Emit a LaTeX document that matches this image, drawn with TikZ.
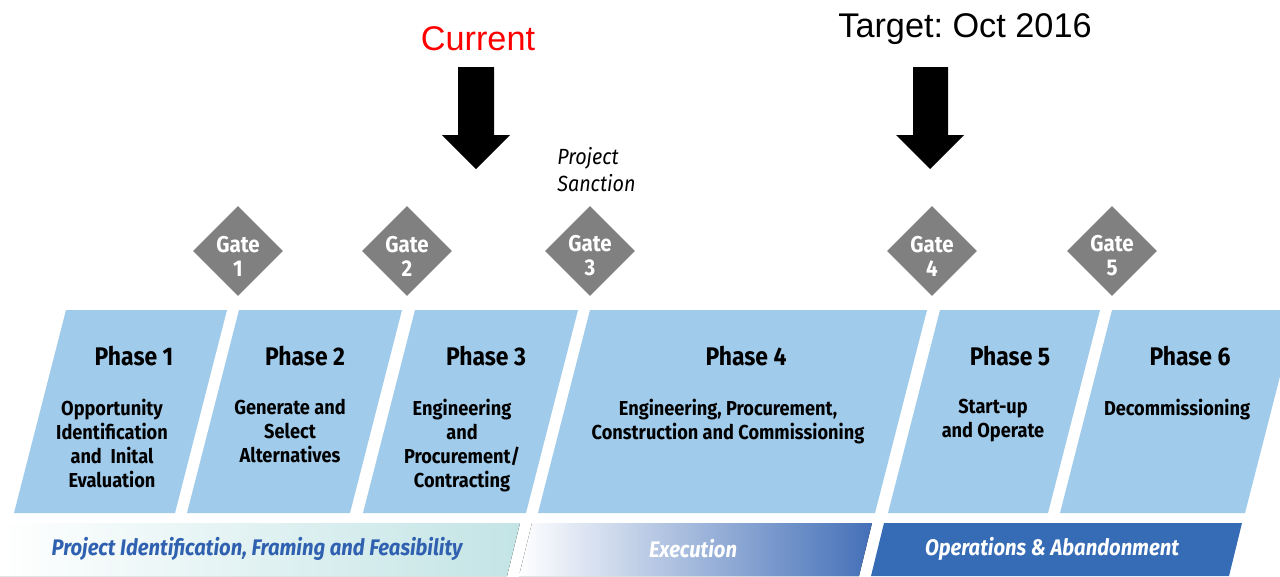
\documentclass[tikz,border=0pt]{standalone}
\usepackage{fontspec}
\setmainfont{Liberation Sans}
\newfontfamily\condfont[FakeStretch=0.9]{Fira Sans}
\usetikzlibrary{shapes.geometric}

\definecolor{phaseblue}{RGB}{160,203,234}
\definecolor{gategray}{RGB}{128,128,128}
\definecolor{bandteal}{RGB}{195,228,229}
\definecolor{bandmid}{RGB}{68,112,184}
\definecolor{bandblue}{RGB}{54,107,181}
\definecolor{labelblue}{RGB}{48,96,176}

\tikzset{
  phase/.style={fill=phaseblue},
  phasetitle/.style={anchor=base, inner sep=0pt, font=\condfont\bfseries\fontsize{14.5}{17}\selectfont},
  phasetext/.style={anchor=north, inner sep=0pt, align=center, font=\condfont\bfseries\fontsize{11.5}{13.6}\selectfont},
  gatelabel/.style={inner sep=0pt, yshift=-0.1cm, text=white, align=center,
    font=\condfont\bfseries\fontsize{13}{13.6}\selectfont},
  gate/.style={diamond, fill=gategray, minimum width=1.8cm, minimum height=1.8cm, inner sep=0pt,
    label={[gatelabel]center:#1}},
  bigarrow/.style={fill=black},
  toplabel/.style={anchor=base, inner sep=0pt, font=\fontsize{19.5}{23}\selectfont},
  bandlabel/.style={inner sep=0pt, font=\condfont\bfseries\itshape\fontsize{12.8}{15}\selectfont},
}

\begin{document}
\begin{tikzpicture}[x=0.02cm, y=-0.02cm]
  \clip (0,0) rectangle (1280,576);
  \fill[white] (0,0) rectangle (1280,576);

  % phase blocks
  \fill[phase] (66,310) -- (227,310) -- (175,513) -- (14,513) -- cycle;
  \fill[phase] (239,310) -- (402,310) -- (350,513) -- (187,513) -- cycle;
  \fill[phase] (415,310) -- (578,310) -- (526,513) -- (363,513) -- cycle;
  \fill[phase] (590,310) -- (927,310) -- (875,513) -- (538,513) -- cycle;
  \fill[phase] (940,310) -- (1100,310) -- (1048,513) -- (888,513) -- cycle;
  \fill[phase] (1112,310) -- (1297,310) -- (1245,513) -- (1060,513) -- cycle;

  \node[phasetitle] (t1) at (134,365) {Phase 1};
  \node[phasetitle] (t2) at (305,365) {Phase 2};
  \node[phasetitle] (t3) at (486,365) {Phase 3};
  \node[phasetitle] (t4) at (746,365) {Phase 4};
  \node[phasetitle] (t5) at (1010,365) {Phase 5};
  \node[phasetitle] (t6) at (1190,365) {Phase 6};

  \node[phasetext] (d1) at (112,399) {Opportunity\\Identification\\and~ Inital\\Evaluation};
  \node[phasetext] (d2) at (290,399) {Generate and\\Select\\Alternatives};
  \node[phasetext] (d3) at (462,399) {Engineering\\and\\Procurement/\\Contracting};
  \node[phasetext] (d4) at (728,399) {Engineering, Procurement,\\Construction and Commissioning};
  \node[phasetext] (d5) at (993,399) {Start-up\\and Operate};
  \node[phasetext] (d6) at (1177,399) {Decommissioning};

  % stage bands
  \fill[left color=white, right color=bandteal] (0,523) -- (520,523) -- (507,576) -- (0,576) -- cycle;
  \fill[left color=white, right color=bandmid] (532,523) -- (872,523) -- (859,576) -- (519,576) -- cycle;
  \fill[bandblue] (884,523) -- (1242,523) -- (1229,576) -- (871,576) -- cycle;

  \node[bandlabel, text=labelblue] (b1) at (257,549) {Project Identification, Framing and Feasibility};
  \node[bandlabel, text=white] (b2) at (693,549) {Execution};
  \node[bandlabel, text=white] (b3) at (1052,549) {Operations \& Abandonment};

  % gates
  \node[gate={Gate\\1}] (g1) at (238,251) {};
  \node[gate={Gate\\2}] (g2) at (407,251) {};
  \node[gate={Gate\\3}] (g3) at (590,251) {};
  \node[gate={Gate\\4}] (g4) at (932,251) {};
  \node[gate={Gate\\5}] (g5) at (1112,251) {};

  \node[anchor=north west, inner sep=0pt, align=left,
    font=\condfont\itshape\fontsize{12.5}{15.3}\selectfont] (sanction) at (557,147) {Project\\Sanction};

  % markers
  \fill[bigarrow] (458,67) -- (494,67) -- (494,135) -- (510,135) -- (476,169) -- (442,135) -- (458,135) -- cycle;
  \fill[bigarrow] (913,67) -- (948,67) -- (948,135) -- (964,135) -- (930,169) -- (896,135) -- (913,135) -- cycle;

  \node[toplabel, text=red] (current) at (478,50) {Current};
  \node[toplabel] (target) at (965,37) {Target:\ Oct 2016};
\end{tikzpicture}
\end{document}
